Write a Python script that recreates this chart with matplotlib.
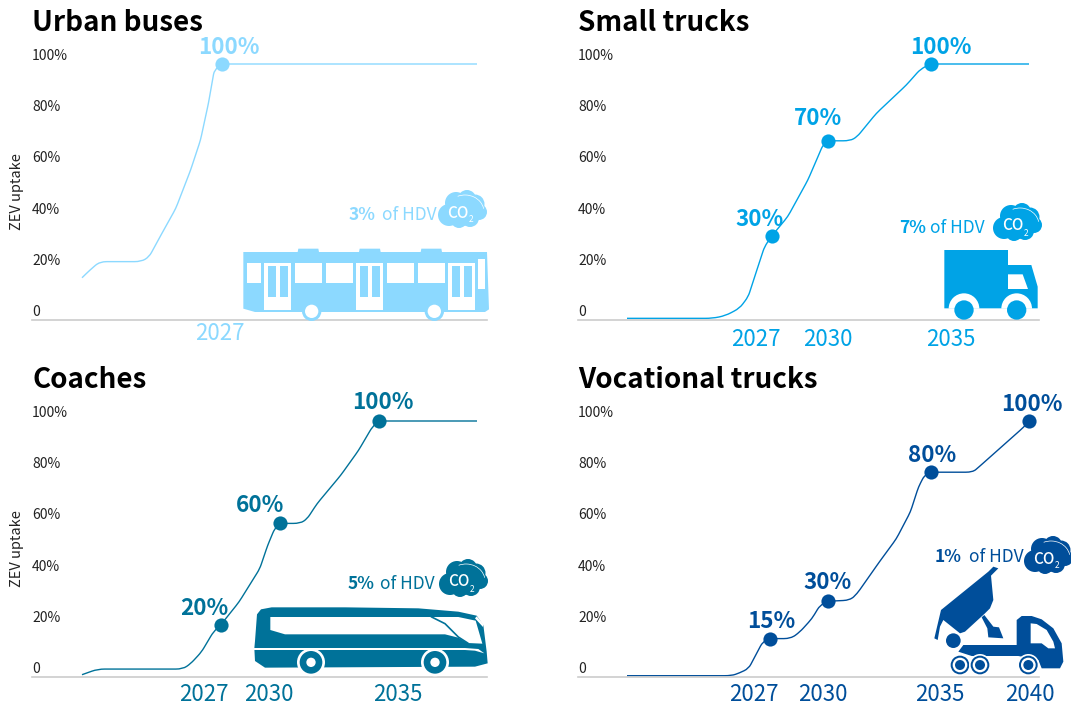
import matplotlib
matplotlib.use('Agg')
import matplotlib.pyplot as plt
from matplotlib.patches import Polygon, Circle, Rectangle, Arc, PathPatch, Wedge
from matplotlib.path import Path
from matplotlib.transforms import offset_copy

plt.rcParams['font.family'] = ['Noto Sans CJK JP', 'DejaVu Sans']

TITLES = ['Urban buses', 'Small trucks', 'Coaches', 'Vocational trucks']
COLORS = ['#8CD9FF', '#00A3E6', '#007299', '#004E9A']
Y_TICKS = [0, 20, 40, 60, 80, 100]
Y_TICK_LABELS = ['0', '20%', '40%', '60%', '80%', '100%']

# curves: year, ZEV share in %
urban_x = [2020, 2020.4, 2020.9, 2023.0, 2023.4, 2024, 2024.75, 2025.5, 2026.0, 2026.4, 2026.7, 2027.1, 2040]
urban_y = [16.5, 19.5, 22.8, 22.8, 24.7, 33.2, 43.6, 58.6, 70.3, 84.6, 97.7, 100, 100]
small_x = [2020, 2024.25, 2024.9, 2025.6, 2026.03, 2026.46, 2026.84, 2027.2, 2028, 2029, 2029.5, 2029.75, 2030,
           2031.1, 2031.45, 2032.4, 2033.9, 2034.6, 2035.1, 2040]
small_y = [0.65, 0.65, 1.7, 4.6, 9.1, 19.5, 28.6, 32.8, 40.4, 54.7, 63.8, 68.4, 70,
           70, 71.6, 80.7, 91.8, 98, 100, 100]
coach_x = [2020, 2020.8, 2025.1, 2025.5, 2026.05, 2026.65, 2027.03, 2027.95, 2029, 2029.4, 2029.75, 2030.02,
           2031.05, 2031.4, 2031.9, 2033.1, 2034, 2034.7, 2035.03, 2040]
coach_y = [0.9, 3.1, 3.1, 5.2, 9.8, 17.6, 20.4, 29.3, 42.3, 51.4, 57.9, 60,
           60, 61.8, 67.7, 78.8, 88.5, 97.7, 100, 100]
voc_x = [2020, 2025.2, 2025.6, 2026.05, 2026.4, 2026.75, 2027.1, 2028.15, 2028.6, 2029.2, 2029.6, 2030,
         2031.1, 2031.45, 2032.55, 2033.4, 2034.1, 2034.5, 2034.8, 2035.1, 2037.2, 2037.5, 2039.75, 2040]
voc_y = [0.5, 0.5, 1.6, 3.3, 8.5, 13.7, 15, 15, 17.6, 22.8, 28, 29.6,
         30, 32.6, 44.9, 54, 64.5, 74.2, 78.8, 80, 80, 82, 97.7, 100]
CURVES = [(urban_x, urban_y), (small_x, small_y), (coach_x, coach_y), (voc_x, voc_y)]

# the dots on each curve
urban_pts = [(2027.1, 100)]
small_pts = [(2027.2, 32.8), (2030, 70), (2035.1, 100)]
coach_pts = [(2027.03, 20.4), (2030.02, 60), (2035.03, 100)]
voc_pts = [(2027.1, 15), (2030, 29.6), (2035.1, 80), (2040, 100)]
POINTS = [urban_pts, small_pts, coach_pts, voc_pts]

# text next to the dots
urban_lab = [('100%', 2027.44, 106.6)]
small_lab = [('30%', 2026.6, 39.4), ('70%', 2029.5, 78.9), ('100%', 2035.62, 106.6)]
coach_lab = [('20%', 2026.18, 26.9), ('60%', 2029, 66.8), ('100%', 2035.24, 107.4)]
voc_lab = [('15%', 2027.16, 21.5), ('30%', 2030, 37.1), ('80%', 2035.17, 86.7), ('100%', 2040.15, 106.6)]
LABELS = [urban_lab, small_lab, coach_lab, voc_lab]

# years under the axis
urban_years = [('2027', 2027.0)]
small_years = [('2027', 2026.42), ('2030', 2030), ('2035', 2036.1)]
coach_years = [('2027', 2026.18), ('2030', 2029.47), ('2035', 2036)]
voc_years = [('2027', 2026.32), ('2030', 2029.75), ('2035', 2035.57), ('2040', 2040.05)]
YEARS = [urban_years, small_years, coach_years, voc_years]
YEAR_Y = [-5.1, -7.6, -6.7, -6.7]

SHARES = ['3%', '7%', '5%', '1%']

W, H = 1071, 705
fig = plt.figure(figsize=(W / 100, H / 100), dpi=100)

# left px, right px, baseline px, px of 2020, px per year
frames = [(32, 487, 320, 82, 19.75), (578, 1039, 320, 627, 20.1),
          (32, 487, 677, 82, 19.75), (578, 1039, 677, 627, 20.1)]


def smooth_line(ax, xs, ys, color):
    # rounds the corners at the read points only, long flat parts stay flat
    verts = [(xs[0], ys[0])]
    codes = [Path.MOVETO]
    for k in range(1, len(xs) - 1):
        back = ((xs[k] - xs[k - 1]) ** 2 + ((ys[k] - ys[k - 1]) / 5) ** 2) ** 0.5
        fwd = ((xs[k + 1] - xs[k]) ** 2 + ((ys[k + 1] - ys[k]) / 5) ** 2) ** 0.5
        t0 = min(0.5, 0.35 / back)
        t1 = min(0.5, 0.35 / fwd)
        verts.append((xs[k] - t0 * (xs[k] - xs[k - 1]), ys[k] - t0 * (ys[k] - ys[k - 1])))
        codes.append(Path.LINETO)
        verts.append((xs[k], ys[k]))
        codes.append(Path.CURVE3)
        verts.append((xs[k] + t1 * (xs[k + 1] - xs[k]), ys[k] + t1 * (ys[k + 1] - ys[k])))
        codes.append(Path.CURVE3)
    verts.append((xs[-1], ys[-1]))
    codes.append(Path.LINETO)
    ax.add_patch(PathPatch(Path(verts, codes), fill=False, ec=color, lw=1.0, clip_on=False))


for i in range(4):
    left, right, base, x0, per = frames[i]
    c = COLORS[i]
    ax = fig.add_axes([left / W, (H - base) / H, (right - left) / W, 256 / H])
    ax.patch.set_alpha(0)
    ax.set_xlim(2020 + (left - x0) / per, 2020 + (right - x0) / per)
    ax.set_ylim(0, 100)
    for s in ['top', 'right', 'left']:
        ax.spines[s].set_visible(False)
    ax.spines['bottom'].set_color('#cccccc')
    ax.spines['bottom'].set_linewidth(1.2)
    ax.set_xticks([])
    ax.set_yticks(Y_TICKS)
    ax.set_yticklabels(Y_TICK_LABELS, fontsize=10, color='#222222', ha='left', va='center')
    ax.tick_params(axis='y', length=0, pad=0)
    for lab in ax.get_yticklabels():
        lab.set_transform(offset_copy(lab.get_transform(), fig=fig, x=0, y=8, units='dots'))

    smooth_line(ax, CURVES[i][0], CURVES[i][1], c)
    ax.plot([p[0] for p in POINTS[i]], [p[1] for p in POINTS[i]], 'o', color=c, ms=10.2, mew=0, clip_on=False)
    for txt, x, y in LABELS[i]:
        ax.text(x, y, txt, color=c, fontsize=16.2, fontweight='bold', ha='center', va='center', clip_on=False)
    for txt, x in YEARS[i]:
        ax.text(x, YEAR_Y[i], txt, color=c, fontsize=16, ha='center', va='center', clip_on=False)

    ax.set_title(TITLES[i], loc='left', fontsize=20, fontweight='bold', color='black',
                 x=0, y=1.16, va='center', pad=0)
    if i % 2 == 0:
        ax.set_ylabel('ZEV uptake', fontsize=10.5, color='#222222', va='center')
        ax.yaxis.set_label_coords(-15 / 455, 0.5)

# icons go on a pixel overlay
ov = fig.add_axes([0, 0, 1, 1], zorder=5)
ov.set_xlim(0, W)
ov.set_ylim(H, 0)
ov.axis('off')
ov.patch.set_alpha(0)


def poly(pts, color, ox, oy):
    ov.add_patch(Polygon([(ox + x / 3, oy + y / 3) for x, y in pts], closed=True, fc=color, ec='none'))


def rect(x0, y0, x1, y1, color, ox, oy):
    ov.add_patch(Rectangle((ox + x0 / 3, oy + y0 / 3), (x1 - x0) / 3, (y1 - y0) / 3, fc=color, ec='none'))


def circ(x, y, r, color, ox, oy):
    ov.add_patch(Circle((ox + x / 3, oy + y / 3), r / 3, fc=color, ec='none'))


def cloud(cx, cy, color):
    for dx, dy, r in [(0, 2, 15), (-13, 6, 11), (-6, -6, 11), (5, -10, 9), (13, -5, 9.5), (17, 3, 8), (8, 9, 9), (-3, 11, 8)]:
        ov.add_patch(Circle((cx + dx, cy + dy), r, fc=color, ec='none'))
    ov.add_patch(Arc((cx + 3, cy + 3), 38, 34, theta1=245, theta2=350, color='white', lw=0.5))
    ov.text(cx - 4, cy + 4, 'CO', color='white', fontsize=11, fontweight='medium', ha='center', va='center')
    ov.text(cx + 9, cy + 11, '2', color='white', fontsize=6, ha='center', va='center')


def share(left, right, y, txt, color):
    ov.text(left, y, txt, color=color, fontsize=12.5, fontweight='bold', ha='left', va='center')
    ov.text(right, y, 'of HDV', color=color, fontsize=12.5, ha='right', va='center')


def city_bus(color):
    ox, oy = 235, 186
    poly([(25, 198), (188, 198), (190, 188), (250, 188), (252, 198), (372, 198), (374, 188), (435, 188), (437, 198),
          (557, 198), (559, 188), (619, 188), (621, 198), (756, 198), (762, 370), (750, 378), (60, 378), (25, 368)],
         color, ox, oy)
    for x0, y0, x1, y1 in [(36, 230, 77, 290), (180, 230, 261, 291), (272, 230, 353, 291), (456, 230, 537, 291),
                           (548, 230, 629, 291), (730, 219, 750, 310)]:
        rect(x0, y0, x1, y1, 'white', ox, oy)
    for x in [88, 364, 640]:
        rect(x, 230, x + 81, 372, 'white', ox, oy)
        rect(x + 10, 240, x + 36, 332, color, ox, oy)
        rect(x + 46, 240, x + 72, 332, color, ox, oy)
    for x in [230, 598]:
        circ(x, 376, 29, color, ox, oy)
        circ(x, 376, 20, 'white', ox, oy)


def small_truck(color):
    ox, oy = 890, 195
    poly([(163, 165), (354, 165), (354, 210), (424, 210), (443, 275), (443, 340), (163, 340)], color, ox, oy)
    poly([(354, 238), (398, 238), (414, 282), (354, 282)], 'white', ox, oy)
    for x in [222, 380]:
        ov.add_patch(Wedge((ox + x / 3, oy + 341 / 3), 46 / 3, 180, 360, fc='white', ec='none'))
        circ(x, 345, 29, color, ox, oy)


def coach(color):
    ox, oy = 245, 555
    poly([(30, 258), (36, 178), (48, 163), (80, 157), (300, 157), (520, 160), (640, 170), (695, 182), (715, 210),
          (725, 290), (728, 325), (690, 335), (60, 338), (30, 318), (28, 280)], color, ox, oy)
    rect(28, 279, 660, 285, 'white', ox, oy)
    poly([(660, 279), (700, 282), (718, 295), (690, 287), (660, 285)], 'white', ox, oy)
    poly([(76, 186), (640, 186), (692, 197), (712, 266), (668, 264), (640, 248), (600, 238), (120, 238), (76, 225)],
         'white', ox, oy)
    ov.plot([ox + x / 3 for x in [560, 600, 640, 668]], [oy + y / 3 for y in [186, 206, 246, 264]], color=color, lw=1.2)
    poly([(695, 184), (716, 208), (714, 216), (690, 190)], 'white', ox, oy)
    for x in [198, 570]:
        circ(x, 322, 42, 'white', ox, oy)
        circ(x, 322, 34, color, ox, oy)
        circ(x, 322, 14, 'white', ox, oy)


def tipper(color):
    ox, oy = 925, 530
    poly([(190, 125), (205, 110), (220, 115), (198, 137), (205, 210), (195, 235), (180, 250), (120, 305), (105, 310),
          (55, 270), (45, 290), (38, 330), (28, 325), (48, 240)], color, ox, oy)
    poly([(178, 255), (205, 290), (222, 292), (235, 325), (190, 322), (187, 295), (170, 262)], color, ox, oy)
    circ(85, 332, 22, color, ox, oy)
    poly([(275, 345), (275, 270), (290, 258), (320, 258), (350, 268), (385, 295), (410, 340), (415, 395), (405, 415),
          (350, 415), (340, 390), (280, 378), (140, 378), (100, 365), (115, 345)], color, ox, oy)
    poly([(317, 280), (335, 282), (365, 300), (385, 335), (390, 355), (370, 355), (350, 340), (317, 340)], 'white', ox, oy)
    for x in [105, 165, 310]:
        circ(x, 405, 33, 'white', ox, oy)
        circ(x, 405, 28, color, ox, oy)
        circ(x, 405, 22, 'white', ox, oy)
        circ(x, 405, 15, color, ox, oy)


city_bus(COLORS[0])
small_truck(COLORS[1])
coach(COLORS[2])
tipper(COLORS[3])

share(349, 437, 215, SHARES[0], COLORS[0])
share(899, 985, 228, SHARES[1], COLORS[1])
share(348, 435, 584, SHARES[2], COLORS[2])
share(935, 1024, 557, SHARES[3], COLORS[3])
cloud(462, 209, COLORS[0])
cloud(1017, 222, COLORS[1])
cloud(463, 578, COLORS[2])
cloud(1048, 555, COLORS[3])

ov.set_xlim(0, W)
ov.set_ylim(H, 0)

fig.savefig('out.png', dpi=100)
